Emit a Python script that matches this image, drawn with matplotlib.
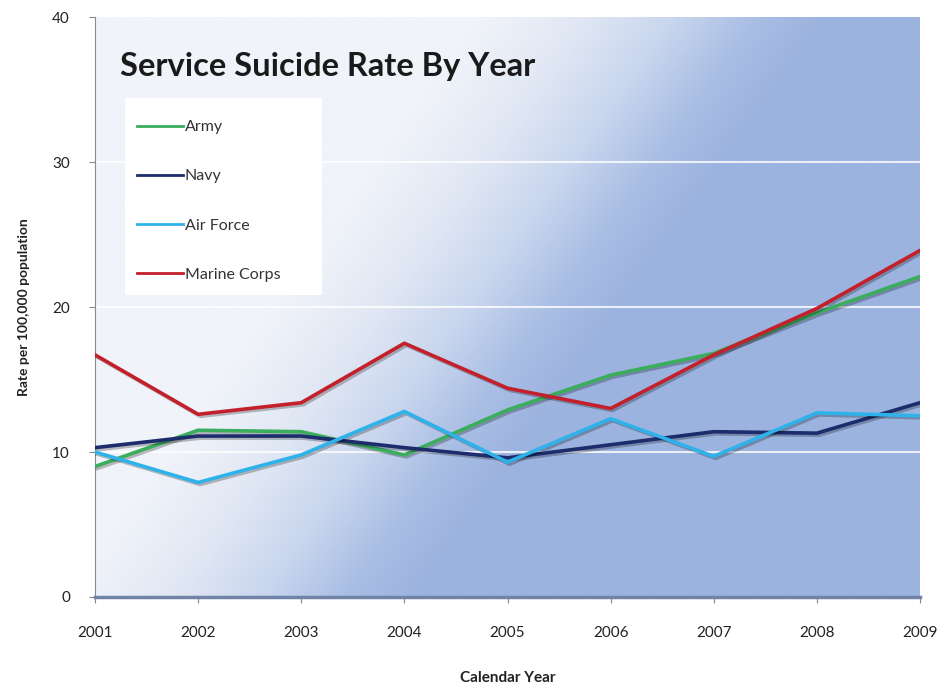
import matplotlib.pyplot as plt
import matplotlib.patheffects as pe
import numpy as np
from matplotlib.colors import LinearSegmentedColormap
from matplotlib.patches import Rectangle

years = [2001, 2002, 2003, 2004, 2005, 2006, 2007, 2008, 2009]
army = [9.0, 11.5, 11.4, 9.8, 12.9, 15.3, 16.8, 19.6, 22.1]
navy = [10.3, 11.1, 11.1, 10.3, 9.6, 10.5, 11.4, 11.3, 13.4]
air_force = [10.0, 7.9, 9.8, 12.8, 9.3, 12.3, 9.7, 12.7, 12.5]
marine = [16.7, 12.6, 13.4, 17.5, 14.4, 13.0, 16.7, 19.9, 23.9]

series = [
    ("Army", army, "#3aae5c"),
    ("Navy", navy, "#1c2c6c"),
    ("Air Force", air_force, "#2fb2ea"),
    ("Marine Corps", marine, "#c3202c"),
]

plt.rcParams["font.family"] = ["Lato", "DejaVu Sans"]

fig = plt.figure(figsize=(9.47, 6.91), dpi=100)
ax = fig.add_axes([95 / 947, 94 / 691, 825 / 947, 580 / 691])

# diagonal gradient: pale towards top-left, steel blue towards bottom-right
gx, gy = np.meshgrid(np.linspace(0, 1, 400), np.linspace(0, 1, 300))
t = np.clip((gx - (0.70 - 0.50 * gy)) / 0.42 + 0.55, 0, 1)
cmap = LinearSegmentedColormap.from_list(
    "bg", [(0.0, "#f0f3f9"), (0.3, "#e0e7f4"), (0.55, "#c9d6ee"),
           (0.8, "#a9bee4"), (1.0, "#9cb3df")])
ax.imshow(t, cmap=cmap, vmin=0, vmax=1,
          extent=[2001, 2009, 0, 40], origin="upper",
          aspect="auto", zorder=0, interpolation="bilinear")

for yv in [10, 20, 30]:
    ax.axhline(yv, color="white", lw=1.5, alpha=0.8, zorder=1)

for name, vals, col in series:
    ax.plot(years, vals, color=col, lw=2.6, label=name, zorder=3,
            path_effects=[pe.SimpleLineShadow(offset=(1.5, -1.5), alpha=0.25),
                          pe.Normal()])

ax.set_xlim(2001, 2009)
ax.set_ylim(0, 40)
ax.set_xticks(years)
ax.set_yticks([0, 10, 20, 30, 40])
ax.tick_params(axis="both", colors="#888888", labelcolor="#222222",
               labelsize=11, length=4)
ax.tick_params(axis="x", pad=17)
ax.tick_params(axis="y", pad=14)
for side in ["top", "right"]:
    ax.spines[side].set_visible(False)
ax.spines["left"].set_color("#8a8a8a")
ax.spines["bottom"].set_color("#7183a6")
ax.spines["bottom"].set_linewidth(2.5)

ax.set_xlabel("Calendar Year", fontsize=11, fontweight="bold", labelpad=22,
              color="#222222")
ax.set_ylabel("Rate per 100,000 population", fontsize=10, fontweight="bold",
              labelpad=16, color="#222222")

ax.text(0.03, 0.915, "Service Suicide Rate By Year", transform=ax.transAxes,
        fontsize=23.5, fontweight="bold", color="#1a1a1a", va="center")

# white legend panel
ax.add_patch(Rectangle((0.0364, 0.5207), 0.2388, 0.3393, transform=ax.transAxes,
                       facecolor="white", edgecolor="none", zorder=4))
leg = ax.legend(loc="upper left", bbox_to_anchor=(0.0509, 0.8225),
                frameon=False, fontsize=11.5, labelspacing=2.2,
                handlelength=2.9, handletextpad=0.1, borderpad=0,
                borderaxespad=0)
for txt in leg.get_texts():
    txt.set_color("#333333")
for line in leg.get_lines():
    line.set_linewidth(2.0)
    line.set_path_effects([])
leg.set_zorder(5)

fig.savefig("out.png", dpi=100)
